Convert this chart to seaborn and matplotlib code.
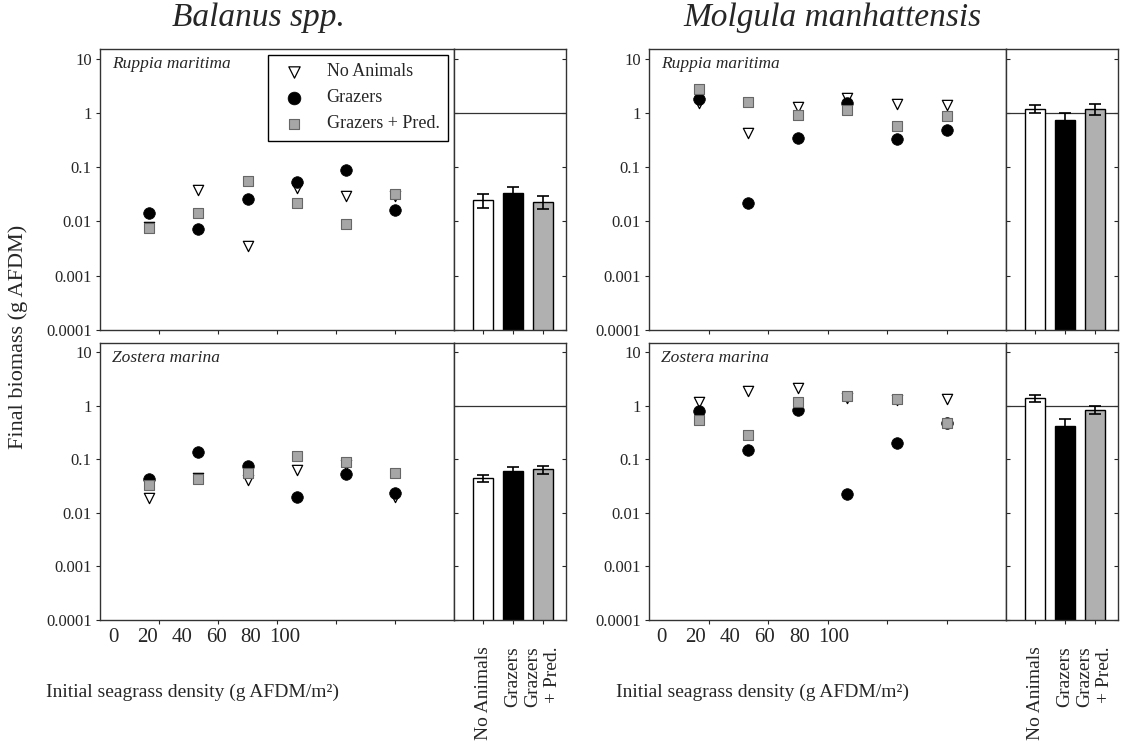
import matplotlib
matplotlib.use('Agg')
import pandas as pd
import matplotlib.pyplot as plt
import seaborn as sns
from matplotlib.ticker import NullLocator

# initial seagrass density (g AFDM/m2)
density = [16.7, 33.3, 50.0, 66.7, 83.3, 100.0]
treatments = ['No Animals', 'Grazers', 'Grazers + Pred.']
bar_labels = ['No Animals', 'Grazers', 'Grazers\n+ Pred.']

# Balanus spp. on Ruppia maritima
bal_rup_none = [0.008, 0.038, 0.0035, 0.042, 0.029, 0.030]
bal_rup_graz = [0.0145, 0.0074, 0.026, 0.054, 0.087, 0.016]
bal_rup_pred = [0.0076, 0.0145, 0.056, 0.022, 0.0091, 0.032]
bal_rup_mean = [0.025, 0.033, 0.023]
bal_rup_se = [0.007, 0.010, 0.006]

# Balanus spp. on Zostera marina
bal_zos_none = [0.019, 0.045, 0.042, 0.064, 0.080, 0.020]
bal_zos_graz = [0.043, 0.135, 0.077, 0.020, 0.053, 0.024]
bal_zos_pred = [0.033, 0.043, 0.055, 0.116, 0.091, 0.057]
bal_zos_mean = [0.045, 0.060, 0.065]
bal_zos_se = [0.007, 0.013, 0.012]

# Molgula manhattensis on Ruppia maritima
mol_rup_none = [1.5, 0.42, 1.28, 1.9, 1.43, 1.4]
mol_rup_graz = [1.78, 0.022, 0.35, 1.5, 0.335, 0.49]
mol_rup_pred = [2.8, 1.58, 0.92, 1.15, 0.58, 0.89]
mol_rup_mean = [1.2, 0.75, 1.2]
mol_rup_se = [0.2, 0.25, 0.28]

# Molgula manhattensis on Zostera marina
mol_zos_none = [1.2, 1.9, 2.2, 1.4, 1.3, 1.33]
mol_zos_graz = [0.81, 0.148, 0.85, 0.023, 0.2, 0.47]
mol_zos_pred = [0.55, 0.29, 1.2, 1.54, 1.33, 0.49]
mol_zos_mean = [1.4, 0.42, 0.85]
mol_zos_se = [0.2, 0.15, 0.15]

yticks = [1e-4, 1e-3, 1e-2, 1e-1, 1, 10]
ytick_labels = ['0.0001', '0.001', '0.01', '0.1', '1', '10']
xtick_vals = [0, 20, 40, 60, 80, 100]

sns.set_style('white')
plt.rcParams['font.family'] = ['Liberation Serif', 'DejaVu Serif']
plt.rcParams['axes.edgecolor'] = '#333333'
plt.rcParams['axes.linewidth'] = 1.0

fig = plt.figure(figsize=(11.26, 7.49), dpi=100)

W, H = 1126, 749


def px_axes(x0, y0, x1, y1):
    # axes from pixel box (top-left origin)
    return fig.add_axes([x0 / W, (H - y1) / H, (x1 - x0) / W, (y1 - y0) / H])


marker_style = {
    'No Animals': dict(marker='v', color='white', edgecolor='black', s=55, linewidth=0.9),
    'Grazers': dict(marker='o', color='black', edgecolor='black', s=70, linewidth=0.5),
    'Grazers + Pred.': dict(marker='s', color='#a6a6a6', edgecolor='#666666', s=45, linewidth=0.8),
}
bar_colors = ['white', 'black', '#b0b0b0']


def draw_panel(ax_s, ax_b, none, graz, pred, mean, se, species, legend=False):
    for name, vals in zip(treatments, [none, graz, pred]):
        sns.scatterplot(x=density, y=vals, ax=ax_s, label=name, legend=False,
                        zorder=3, **marker_style[name])
    ax_s.set_yscale('log')
    ax_s.set_ylim(1e-4, 15)
    ax_s.set_xlim(0, 120)
    ax_s.set_yticks(yticks, labels=ytick_labels)
    ax_s.yaxis.set_minor_locator(NullLocator())
    ax_s.set_xticks([20, 40, 60, 80, 100])
    ax_s.set_xticklabels([])
    ax_s.tick_params(axis='y', left=True, length=3, width=0.8, labelsize=12, pad=3)
    ax_s.tick_params(axis='x', bottom=True, length=3, width=0.8)
    ax_s.text(0.035, 0.975, species, transform=ax_s.transAxes, style='italic',
              fontsize=12.5, ha='left', va='top')
    if legend:
        ax_s.legend(loc='upper right', fontsize=13, frameon=True, fancybox=False,
                    edgecolor='black', framealpha=1, borderpad=0.45,
                    labelspacing=0.5, handletextpad=0.8, borderaxespad=0.35,
                    markerscale=1.1)

    sns.barplot(x=bar_labels, y=mean, hue=bar_labels, palette=bar_colors,
                edgecolor='black', linewidth=1, width=0.67, errorbar=None,
                legend=False, ax=ax_b, zorder=2)
    ax_b.errorbar(range(3), mean, yerr=se, fmt='none', ecolor='black',
                  elinewidth=1.2, capsize=4, capthick=1.2, zorder=3)
    ax_b.axhline(1, color='#333333', lw=0.9, zorder=1)
    ax_b.set_yscale('log')
    ax_b.set_ylim(1e-4, 15)
    ax_b.set_xlim(-0.97, 2.77)
    ax_b.set_yticks(yticks)
    ax_b.yaxis.set_minor_locator(NullLocator())
    ax_b.tick_params(axis='y', left=True, right=True, direction='in', length=3,
                     width=0.8, labelleft=False)
    ax_b.set_xlabel('')
    ax_b.set_ylabel('')


ax1 = px_axes(100, 49, 454, 330)
ax1b = px_axes(454, 49, 566, 330)
ax2 = px_axes(100, 343, 454, 620)
ax2b = px_axes(454, 343, 566, 620)
ax3 = px_axes(649, 49, 1006, 330)
ax3b = px_axes(1006, 49, 1118, 330)
ax4 = px_axes(649, 343, 1006, 620)
ax4b = px_axes(1006, 343, 1118, 620)

draw_panel(ax1, ax1b, bal_rup_none, bal_rup_graz, bal_rup_pred,
           bal_rup_mean, bal_rup_se, 'Ruppia maritima', legend=True)
draw_panel(ax2, ax2b, bal_zos_none, bal_zos_graz, bal_zos_pred,
           bal_zos_mean, bal_zos_se, 'Zostera marina')
draw_panel(ax3, ax3b, mol_rup_none, mol_rup_graz, mol_rup_pred,
           mol_rup_mean, mol_rup_se, 'Ruppia maritima')
draw_panel(ax4, ax4b, mol_zos_none, mol_zos_graz, mol_zos_pred,
           mol_zos_mean, mol_zos_se, 'Zostera marina')

# top row bar panels: no category labels
for ax in [ax1b, ax3b]:
    ax.set_xticklabels([])
    ax.tick_params(axis='x', bottom=True, length=3, width=0.8)
for ax in [ax2b, ax4b]:
    ax.tick_params(axis='x', bottom=True, length=3, width=0.8, pad=16, labelsize=14)
    for lab in ax.get_xticklabels():
        lab.set_rotation(90)
        lab.set_multialignment('right')

# density tick labels, set in their own compressed strip as in the original
for x0, x1 in [(113, 285), (661, 834)]:
    lab_ax = px_axes(x0, 624, x1, 625)
    lab_ax.set_xlim(0, 100)
    lab_ax.set_xticks(xtick_vals)
    lab_ax.set_yticks([])
    lab_ax.tick_params(axis='x', length=0, labelsize=15, pad=2)
    for sp in lab_ax.spines.values():
        sp.set_visible(False)
    lab_ax.patch.set_alpha(0)

fig.text(192 / W, 1 - 692 / H, 'Initial seagrass density (g AFDM/m²)',
         ha='center', va='center', fontsize=14)
fig.text(762 / W, 1 - 692 / H, 'Initial seagrass density (g AFDM/m²)',
         ha='center', va='center', fontsize=14)
fig.text(258 / W, 1 - 18 / H, 'Balanus spp.', ha='center', va='center',
         fontsize=24, style='italic')
fig.text(832 / W, 1 - 18 / H, 'Molgula manhattensis', ha='center', va='center',
         fontsize=24, style='italic')
fig.text(18 / W, 1 - 337 / H, 'Final biomass (g AFDM)', rotation=90,
         ha='center', va='center', fontsize=16)

fig.savefig('out.png', dpi=100)
